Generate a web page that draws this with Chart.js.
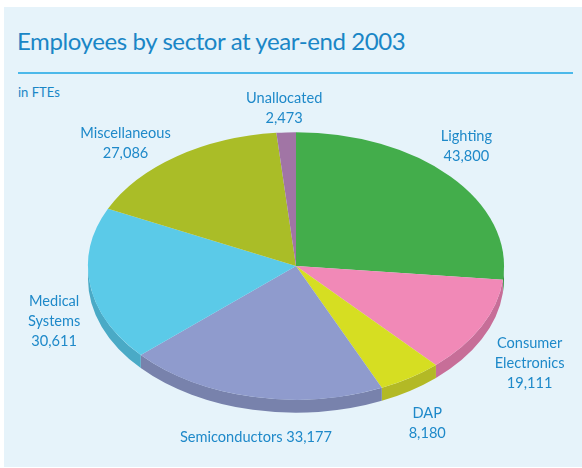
<!DOCTYPE html>
<html>
<head>
<meta charset="utf-8">
<script src="https://cdn.jsdelivr.net/npm/chart.js@4/dist/chart.umd.min.js"></script>
<style>
  html, body { margin: 0; padding: 0; background: #fff; overflow: hidden; }
  body { width: 582px; height: 468px; position: relative; font-family: Lato, "Open Sans", sans-serif; }
  #panel { position: absolute; left: 4px; top: 7px; width: 578px; height: 460px; background: #e6f3fa; }
  #titulo { position: absolute; left: 17px; top: 26px; font-size: 24px; color: #1a86c6; white-space: nowrap; letter-spacing: -0.4px; }
  #regla { position: absolute; left: 18px; top: 72px; width: 555px; height: 2px; background: #4cb9ea; }
  #unidad { position: absolute; left: 18px; top: 84px; font-size: 13px; color: #1a86c6; }
  #lienzo { position: absolute; left: 0; top: 0; }
  .etiqueta { position: absolute; transform: translate(-50%, -50%); text-align: center; font-size: 14.6px; line-height: 20px; color: #1e89c9; white-space: nowrap; }
</style>
</head>
<body>
<div id="panel"></div>
<div id="titulo">Employees by sector at year-end 2003</div>
<div id="regla"></div>
<div id="unidad">in FTEs</div>
<div id="lienzo"><canvas id="tarta" width="582" height="500"></canvas></div>

<script>
// Plantilla por sector (FTE), en sentido horario desde arriba
const sectores = ['Lighting', 'Consumer Electronics', 'DAP', 'Semiconductors', 'Medical Systems', 'Miscellaneous', 'Unallocated'];
const empleados = [43800, 19111, 8180, 33177, 30611, 27086, 2473];

// colores cara superior y lateral
const coloresCara = ['#43ad4b', '#f189b7', '#d6de22', '#8f9bcd', '#5bcae8', '#aabd27', '#a175a5'];
const coloresLado = ['#37903e', '#c76e98', '#b3b925', '#7882ac', '#4aaac6', '#8c9c20', '#855f88'];

// forma de cada etiqueta y desplazamiento respecto al borde de la porción
const formaEtiqueta = ['dos', 'palabras', 'dos', 'linea', 'palabras', 'dos', 'dos'];
const desplEtiqueta = [[16, -30], [48, 37], [17, 45], [3, 40], [-36, 36], [-51, -14], [-2, -24]];

const INCLINACION = 0.643;   // achatamiento vertical
const PROFUNDIDAD = 13;      // grosor del borde en px

const inclinar = {
    id: 'inclinar',
    beforeDatasetsDraw(chart) {
        const ctx = chart.ctx;
        const arcos = chart.getDatasetMeta(0).data;
        const { x, y } = arcos[0];
        ctx.save();
        ctx.translate(x, y);
        ctx.scale(1, INCLINACION);
        ctx.translate(-x, -y);

        // lateral visible: solo la mitad delantera (0..PI)
        const d = PROFUNDIDAD / INCLINACION;
        arcos.forEach((arco, i) => {
            const a1 = Math.max(arco.startAngle, 0);
            const a2 = Math.min(arco.endAngle, Math.PI);
            if (a2 <= a1) return;
            ctx.beginPath();
            ctx.arc(x, y, arco.outerRadius, a1, a2);
            ctx.arc(x, y + d, arco.outerRadius, a2, a1, true);
            ctx.closePath();
            ctx.fillStyle = coloresLado[i];
            ctx.fill();
        });
    },
    afterDatasetsDraw(chart) {
        chart.ctx.restore();
    },
    afterRender(chart) {
        // etiquetas HTML colocadas según la geometría de cada porción
        document.querySelectorAll('.etiqueta').forEach(e => e.remove());
        const arcos = chart.getDatasetMeta(0).data;
        arcos.forEach((arco, i) => {
            const medio = (arco.startAngle + arco.endAngle) / 2;
            const bx = arco.x + arco.outerRadius * Math.cos(medio);
            const by = arco.y + arco.outerRadius * INCLINACION * Math.sin(medio);
            const valor = empleados[i].toLocaleString('en-US');
            let html;
            if (formaEtiqueta[i] === 'linea') {
                html = sectores[i] + ' ' + valor;
            } else if (formaEtiqueta[i] === 'palabras') {
                html = sectores[i].split(' ').join('<br>') + '<br>' + valor;
            } else {
                html = sectores[i] + '<br>' + valor;
            }
            const div = document.createElement('div');
            div.className = 'etiqueta';
            div.innerHTML = html;
            div.style.left = (bx + desplEtiqueta[i][0]) + 'px';
            div.style.top = (by + desplEtiqueta[i][1]) + 'px';
            document.body.appendChild(div);
        });
    }
};

const ctx = document.getElementById('tarta').getContext('2d');
new Chart(ctx, {
    type: 'pie',
    data: {
        labels: sectores,
        datasets: [{
            data: empleados,
            backgroundColor: coloresCara,
            borderWidth: 0,
            hoverOffset: 0
        }]
    },
    options: {
        responsive: false,
        animation: false,
        events: [],
        layout: {
            padding: { left: 88, right: 78, top: 58, bottom: 26 }
        },
        plugins: {
            legend: { display: false },
            tooltip: { enabled: false }
        }
    },
    plugins: [inclinar]
});
</script>
</body>
</html>
